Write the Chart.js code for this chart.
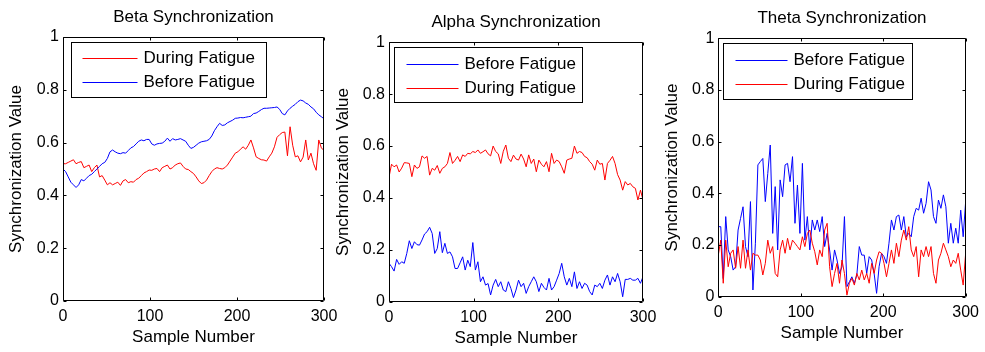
<!DOCTYPE html>
<html>
<head>
<meta charset="utf-8">
<script src="https://cdn.jsdelivr.net/npm/chart.js@4.4.1/dist/chart.umd.min.js"></script>
<style>
  body { margin: 0; background: #fff; }
  #wrap { position: relative; width: 985px; height: 352px; overflow: hidden; }
  canvas { position: absolute; top: 0; }
</style>
</head>
<body>
<div id="wrap">
  <canvas id="c1" width="345" height="352" style="left:0px"></canvas>
  <canvas id="c2" width="335" height="352" style="left:330px"></canvas>
  <canvas id="c3" width="330" height="352" style="left:655px"></canvas>
</div>
<script>
// Sample numbers (x axis)
const samples = [0,3,6,9,12,15,18,21,24,27,30,33,36,39,42,45,48,51,54,57,60,63,66,69,72,75,78,81,84,87,
  90,93,96,99,102,105,108,111,114,117,120,123,126,129,132,135,138,141,144,147,150,153,156,159,162,165,168,171,174,177,
  180,183,186,189,192,195,198,201,204,207,210,213,216,219,222,225,228,231,234,237,240,243,246,249,252,255,258,261,264,267,
  270,273,276,279,282,285,288,291,294,297,300];

const xTicks = [0, 100, 200, 300];
const yTicks = [0, 0.2, 0.4, 0.6, 0.8, 1];

// Beta band
const betaBefore = [0.50,0.49,0.47,0.45,0.44,0.43,0.44,0.46,0.455,0.465,
  0.475,0.48,0.49,0.50,0.51,0.52,0.525,0.54,0.565,0.572,
  0.565,0.56,0.558,0.562,0.56,0.57,0.58,0.585,0.595,0.605,
  0.61,0.607,0.612,0.612,0.595,0.59,0.595,0.597,0.598,0.605,
  0.617,0.605,0.615,0.61,0.612,0.615,0.61,0.605,0.59,0.578,
  0.582,0.59,0.598,0.603,0.605,0.607,0.612,0.625,0.645,0.66,
  0.673,0.665,0.667,0.675,0.68,0.685,0.692,0.693,0.695,0.694,
  0.696,0.698,0.70,0.71,0.712,0.718,0.725,0.73,0.73,0.731,
  0.732,0.733,0.735,0.726,0.71,0.705,0.72,0.73,0.738,0.745,
  0.755,0.761,0.758,0.75,0.745,0.735,0.728,0.715,0.705,0.698,
  0.69];
const betaDuring = [0.52,0.52,0.525,0.53,0.535,0.52,0.525,0.528,0.505,0.51,
  0.515,0.49,0.505,0.515,0.47,0.475,0.458,0.44,0.448,0.44,
  0.445,0.45,0.438,0.455,0.46,0.448,0.452,0.45,0.46,0.465,
  0.475,0.485,0.49,0.496,0.495,0.50,0.502,0.49,0.505,0.51,
  0.515,0.50,0.505,0.515,0.52,0.523,0.51,0.50,0.498,0.49,
  0.483,0.47,0.455,0.445,0.448,0.458,0.475,0.49,0.50,0.505,
  0.502,0.50,0.505,0.515,0.53,0.545,0.56,0.565,0.575,0.584,
  0.575,0.59,0.61,0.58,0.546,0.54,0.535,0.534,0.53,0.546,
  0.56,0.584,0.62,0.63,0.638,0.64,0.55,0.66,0.59,0.546,
  0.55,0.527,0.545,0.61,0.534,0.56,0.52,0.495,0.61,0.58,
  0.57];

// Alpha band
const alphaBefore = [0.148,0.135,0.118,0.163,0.144,0.154,0.148,0.186,0.235,0.205,
  0.231,0.22,0.218,0.238,0.261,0.27,0.287,0.263,0.186,0.205,
  0.27,0.189,0.225,0.186,0.192,0.173,0.128,0.128,0.15,0.173,
  0.122,0.16,0.135,0.228,0.122,0.154,0.077,0.096,0.064,0.07,
  0.026,0.064,0.086,0.058,0.077,0.045,0.039,0.077,0.051,0.016,
  0.045,0.083,0.058,0.071,0.032,0.058,0.077,0.096,0.077,0.039,
  0.071,0.055,0.045,0.09,0.045,0.058,0.083,0.109,0.148,0.096,
  0.064,0.09,0.058,0.115,0.051,0.077,0.051,0.071,0.064,0.039,
  0.026,0.064,0.058,0.071,0.051,0.083,0.103,0.064,0.096,0.077,
  0.109,0.077,0.019,0.086,0.086,0.09,0.083,0.083,0.09,0.071,
  0.096];
const alphaDuring = [0.48,0.53,0.52,0.527,0.50,0.515,0.536,0.535,0.533,0.482,
  0.527,0.514,0.52,0.562,0.553,0.56,0.488,0.514,0.507,0.525,
  0.495,0.514,0.52,0.533,0.575,0.533,0.545,0.56,0.54,0.566,
  0.56,0.572,0.57,0.579,0.575,0.585,0.572,0.578,0.585,0.57,
  0.562,0.60,0.579,0.57,0.533,0.58,0.604,0.553,0.54,0.565,
  0.55,0.546,0.569,0.55,0.52,0.566,0.533,0.55,0.501,0.546,
  0.53,0.52,0.54,0.501,0.572,0.533,0.546,0.54,0.52,0.495,
  0.546,0.55,0.553,0.60,0.572,0.579,0.575,0.56,0.555,0.54,
  0.53,0.507,0.546,0.53,0.533,0.469,0.533,0.545,0.56,0.533,
  0.49,0.469,0.43,0.463,0.45,0.456,0.443,0.437,0.392,0.43,
  0.392];

// Theta band
const thetaBefore = [0.271,0.271,0.07,0.31,0.181,0.155,0.103,0.116,0.258,0.303,
  0.348,0.194,0.155,0.368,0.026,0.207,0.51,0.523,0.535,0.368,
  0.477,0.587,0.245,0.426,0.181,0.452,0.387,0.51,0.516,0.445,
  0.542,0.284,0.432,0.245,0.516,0.219,0.31,0.181,0.297,0.258,
  0.297,0.252,0.31,0.194,0.245,0.181,0.103,0.181,0.142,0.09,
  0.116,0.31,0.039,0.058,0.077,0.052,0.084,0.194,0.161,0.161,
  0.09,0.155,0.142,0.09,0.013,0.116,0.168,0.155,0.129,0.207,
  0.297,0.258,0.31,0.316,0.258,0.31,0.232,0.245,0.232,0.31,
  0.342,0.335,0.381,0.323,0.361,0.445,0.413,0.31,0.284,0.374,
  0.342,0.394,0.348,0.207,0.284,0.207,0.265,0.207,0.335,0.232,
  0.368];
const thetaDuring = [0.161,0.219,0.052,0.219,0.116,0.168,0.181,0.11,0.194,0.11,
  0.219,0.11,0.181,0.103,0.168,0.161,0.161,0.142,0.084,0.129,
  0.219,0.168,0.194,0.09,0.077,0.181,0.219,0.168,0.226,0.181,
  0.219,0.207,0.194,0.181,0.232,0.194,0.245,0.258,0.207,0.174,
  0.123,0.181,0.155,0.258,0.284,0.116,0.039,0.09,0.129,0.052,
  0.142,0.09,0.006,0.052,0.071,0.045,0.09,0.065,0.103,0.065,
  0.09,0.052,0.129,0.09,0.142,0.174,0.168,0.129,0.077,0.129,
  0.181,0.129,0.207,0.155,0.219,0.258,0.219,0.271,0.181,0.155,
  0.194,0.077,0.181,0.155,0.194,0.155,0.194,0.09,0.052,0.142,
  0.168,0.207,0.181,0.155,0.116,0.142,0.129,0.168,0.103,0.045,
  0.168];

const BLUE = '#0000ff';
const RED = '#ff0000';
const FONT = "'Liberation Sans', Arial, Helvetica, sans-serif";

Chart.defaults.font.family = FONT;
Chart.defaults.color = '#000';

// frame, inward ticks and boxed legend (MATLAB look)
const framePlugin = {
  id: 'frame',
  afterDatasetsDraw(chart, args, opts) {
    const { ctx, chartArea: a, scales: { x, y } } = chart;
    const L = Math.round(a.left) + 0.5, R = Math.round(a.right) - 0.5;
    const T = Math.round(a.top) + 0.5, B = Math.round(a.bottom) - 0.5;
    ctx.save();
    ctx.strokeStyle = '#000';
    ctx.lineWidth = 1;
    ctx.beginPath();
    ctx.rect(L, T, R - L, B - T);
    x.ticks.forEach(t => {
      const px = Math.round(x.getPixelForValue(t.value)) + 0.5;
      ctx.moveTo(px, B); ctx.lineTo(px, B - 3);
      ctx.moveTo(px, T); ctx.lineTo(px, T + 3);
    });
    y.ticks.forEach(t => {
      const py = Math.round(y.getPixelForValue(t.value)) + 0.5;
      ctx.moveTo(L, py); ctx.lineTo(L + 3, py);
      ctx.moveTo(R, py); ctx.lineTo(R - 3, py);
    });
    ctx.stroke();

    // legend box
    const lg = opts.legend;
    const bx = Math.round(a.left + lg.x) + 0.5, by = Math.round(a.top + lg.y) + 0.5;
    ctx.fillStyle = '#fff';
    ctx.fillRect(bx, by, lg.w, lg.h);
    ctx.strokeRect(bx, by, lg.w, lg.h);
    ctx.font = '17px ' + FONT;
    ctx.textBaseline = 'middle';
    chart.data.datasets.forEach((ds, i) => {
      const ry = Math.round(by + lg.rows[i]) + 0.5;
      ctx.strokeStyle = ds.borderColor;
      ctx.beginPath();
      ctx.moveTo(bx + lg.line0, ry);
      ctx.lineTo(bx + lg.line1, ry);
      ctx.stroke();
      ctx.fillStyle = '#000';
      ctx.fillText(ds.label, bx + lg.text, ry);
    });
    ctx.restore();
  }
};

const panels = [
  { id: 'c1', title: 'Beta Synchronization',
    series: [['During Fatigue', RED, betaDuring], ['Before Fatigue', BLUE, betaBefore]],
    yWidth: 63, padRight: 21, xHeight: 51, titlePad: { top: 7.3, bottom: 9.3 },
    yTitlePad: 6, xTitlePad: 4.3,
    legend: { x: 8, y: 5, w: 195, h: 55, line0: 11, line1: 66, text: 72, rows: [15, 39] } },
  { id: 'c2', title: 'Alpha Synchronization',
    series: [['Before Fatigue', BLUE, alphaBefore], ['During Fatigue', RED, alphaDuring]],
    yWidth: 59, padRight: 22, xHeight: 50.3, titlePad: { top: 11.8, bottom: 10.1 },
    yTitlePad: 3, xTitlePad: 3.8,
    legend: { x: 5, y: 5, w: 188, h: 55, line0: 12, line1: 64, text: 70, rows: [16, 40] } },
  { id: 'c3', title: 'Theta Synchronization',
    series: [['Before Fatigue', BLUE, thetaBefore], ['During Fatigue', RED, thetaDuring]],
    yWidth: 63.3, padRight: 16.7, xHeight: 55.3, titlePad: { top: 8.1, bottom: 9.8 },
    yTitlePad: 7, xTitlePad: 8.8,
    legend: { x: 5, y: 4.5, w: 189, h: 56, line0: 12, line1: 64, text: 70, rows: [16, 40] } }
];

panels.forEach(p => {
  new Chart(document.getElementById(p.id), {
    type: 'line',
    data: {
      datasets: p.series.map(([label, color, vals], i) => ({
        label: label,
        data: samples.map((s, k) => ({ x: s, y: vals[k] })),
        borderColor: color,
        borderWidth: 1,
        pointRadius: 0,
        tension: 0,
        order: i === 0 ? 1 : 0
      }))
    },
    options: {
      responsive: false,
      animation: false,
      events: [],
      layout: { padding: { left: 0, right: p.padRight, top: 0, bottom: 0 } },
      plugins: {
        legend: { display: false },
        tooltip: { enabled: false },
        title: {
          display: true, text: p.title, fullSize: false,
          font: { size: 17, weight: 'normal' }, color: '#000',
          padding: p.titlePad
        },
        frame: { legend: p.legend }
      },
      scales: {
        x: {
          type: 'linear', min: 0, max: 300,
          grid: { display: false, drawTicks: false },
          border: { display: false },
          afterBuildTicks: s => { s.ticks = xTicks.map(v => ({ value: v })); },
          afterFit: s => { s.height = p.xHeight; },
          ticks: { font: { size: 16 }, color: '#000', padding: 6, maxRotation: 0 },
          title: { display: true, text: 'Sample Number', font: { size: 17 }, color: '#000',
                   padding: { top: 0, bottom: p.xTitlePad } }
        },
        y: {
          min: 0, max: 1,
          grid: { display: false, drawTicks: false },
          border: { display: false },
          afterBuildTicks: s => { s.ticks = yTicks.map(v => ({ value: v })); },
          afterFit: s => { s.width = p.yWidth; },
          ticks: { font: { size: 16 }, color: '#000', padding: 4,
                   callback: v => String(Math.round(v * 10) / 10) },
          title: { display: true, text: 'Synchronization Value', font: { size: 17 }, color: '#000',
                   padding: { top: p.yTitlePad, bottom: 0 } }
        }
      }
    },
    plugins: [framePlugin]
  });
});
</script>
</body>
</html>
